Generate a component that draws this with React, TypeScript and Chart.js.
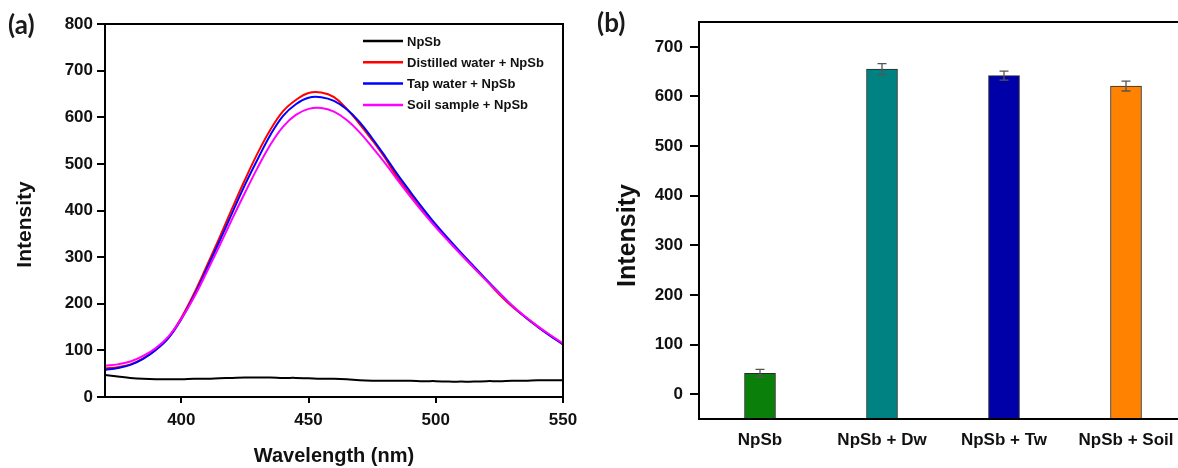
import React, { useEffect, useRef } from "react";
import { Chart, registerables } from "chart.js";

Chart.register(...registerables);

// Emission spectra, sampled every 5 nm
const wavelengths = [
  370, 375, 380, 385, 390, 395, 400, 405, 410, 415, 420, 425, 430, 435, 440, 445, 450, 455, 460,
  465, 470, 475, 480, 485, 490, 495, 500, 505, 510, 515, 520, 525, 530, 535, 540, 545, 550,
];
const npsbSpectrum = [
  47, 44, 41, 39, 38, 38, 38, 39, 39, 40, 41, 42, 42, 42, 41, 41, 40, 39, 39,
  38, 36, 35, 35, 35, 35, 34, 34, 33, 33, 33, 34, 34, 35, 35, 36, 36, 36,
];
const distilledSpectrum = [
  61, 64, 70, 83, 102, 128, 170, 222, 281, 342, 405, 466, 523, 573, 613, 637, 652, 653, 643,
  618, 586, 551, 513, 470, 434, 398, 366, 336, 306, 277, 249, 220, 194, 172, 151, 132, 113,
];
const tapSpectrum = [
  58, 62, 69, 82, 101, 127, 167, 217, 275, 334, 395, 455, 510, 562, 603, 628, 642, 643, 635,
  617, 590, 555, 517, 477, 440, 404, 370, 339, 309, 280, 251, 223, 196, 172, 151, 131, 113,
];
const soilSpectrum = [
  67, 70, 76, 88, 105, 130, 168, 214, 268, 324, 382, 438, 492, 541, 580, 605, 618, 620, 612,
  594, 568, 536, 502, 465, 430, 396, 364, 334, 305, 277, 249, 222, 196, 173, 152, 133, 115,
];
const spectrumLabels = ["NpSb", "Distilled water + NpSb", "Tap water + NpSb", "Soil sample + NpSb"];
const spectrumColors = ["#000000", "#ff0000", "#0000ff", "#ff00ff"];
const wavelengthTicks = [400, 450, 500, 550];
const spectrumIntensityTicks = [0, 100, 200, 300, 400, 500, 600, 700, 800];

// Peak intensity per sample
const barCategories = ["NpSb", "NpSb + Dw", "NpSb + Tw", "NpSb + Soil"];
const barValues = [42, 655, 642, 621];
const barErrors = [8, 11, 9, 10];
const barColors = ["#0a800a", "#008282", "#0000a8", "#ff8200"];
const barIntensityTicks = [0, 100, 200, 300, 400, 500, 600, 700];

const FONT = '"Liberation Sans", Arial, Helvetica, sans-serif';
const INK = "#111111";

const framePlugin = {
  id: "frame",
  afterDraw(chart: any) {
    const { ctx, chartArea } = chart;
    ctx.save();
    ctx.strokeStyle = "#000";
    ctx.lineWidth = 2;
    ctx.strokeRect(chartArea.left, chartArea.top, chartArea.right - chartArea.left, chartArea.bottom - chartArea.top);
    ctx.restore();
  },
};

// Rotated y-axis title, placed a little below the middle of the plot area
function makeYTitle(text: string, size: number, xCenter: number, shift: number) {
  return {
    id: "yTitle",
    afterDraw(chart: any) {
      const { ctx, chartArea } = chart;
      const yc = (chartArea.top + chartArea.bottom) / 2 + shift;
      ctx.save();
      ctx.translate(xCenter, yc);
      ctx.rotate(-Math.PI / 2);
      ctx.font = `bold ${size}px ${FONT}`;
      ctx.fillStyle = INK;
      ctx.textAlign = "center";
      ctx.textBaseline = "middle";
      ctx.fillText(text, 0, 0);
      ctx.restore();
    },
  };
}

const spectrumLegend = {
  id: "spectrumLegend",
  afterDraw(chart: any) {
    const { ctx, chartArea } = chart;
    const x0 = chartArea.right - 200;
    const y0 = chartArea.top + 17;
    const row = 21.3;
    ctx.save();
    ctx.font = `bold 13px ${FONT}`;
    ctx.textBaseline = "middle";
    ctx.textAlign = "left";
    chart.data.datasets.forEach((ds: any, i: number) => {
      const y = y0 + i * row;
      ctx.strokeStyle = ds.borderColor;
      ctx.lineWidth = 2.5;
      ctx.beginPath();
      ctx.moveTo(x0, y);
      ctx.lineTo(x0 + 40, y);
      ctx.stroke();
      ctx.fillStyle = INK;
      ctx.fillText(ds.label, x0 + 44, y + 1);
    });
    ctx.restore();
  },
};

const errorBarPlugin = {
  id: "errorBars",
  afterDatasetsDraw(chart: any) {
    const { ctx } = chart;
    const yScale = chart.scales.y;
    const meta = chart.getDatasetMeta(0);
    const values = chart.data.datasets[0].data as number[];
    ctx.save();
    ctx.strokeStyle = "#555";
    ctx.lineWidth = 1.3;
    meta.data.forEach((bar: any, i: number) => {
      const hi = yScale.getPixelForValue(values[i] + barErrors[i]);
      const lo = yScale.getPixelForValue(values[i] - barErrors[i]);
      const x = bar.x;
      ctx.beginPath();
      ctx.moveTo(x, hi);
      ctx.lineTo(x, lo);
      ctx.moveTo(x - 4.5, hi);
      ctx.lineTo(x + 4.5, hi);
      ctx.moveTo(x - 4.5, lo);
      ctx.lineTo(x + 4.5, lo);
      ctx.stroke();
    });
    ctx.restore();
  },
};

function SpectraChart() {
  const ref = useRef<HTMLCanvasElement>(null);
  useEffect(() => {
    const series = [npsbSpectrum, distilledSpectrum, tapSpectrum, soilSpectrum];
    const chart = new Chart(ref.current as HTMLCanvasElement, {
      type: "line",
      data: {
        datasets: series.map((arr, i) => ({
          label: spectrumLabels[i],
          data: wavelengths.map((x, j) => ({ x, y: arr[j] })),
          borderColor: spectrumColors[i],
          backgroundColor: spectrumColors[i],
          borderWidth: 2,
          pointRadius: 0,
          tension: 0.4,
          order: series.length - i,
        })),
      },
      options: {
        animation: false,
        responsive: false,
        events: [],
        layout: { padding: { left: 0, top: 24, right: 27, bottom: 0 } },
        plugins: { legend: { display: false }, tooltip: { enabled: false } },
        scales: {
          x: {
            type: "linear",
            min: 370,
            max: 550,
            afterBuildTicks: (s: any) => {
              s.ticks = wavelengthTicks.map((value) => ({ value }));
            },
            afterFit: (s: any) => {
              s.height = 71;
            },
            grid: { drawOnChartArea: false, drawTicks: true, tickLength: 6, color: "#000", lineWidth: 2 },
            border: { display: true, color: "#000", width: 2 },
            ticks: { color: INK, font: { family: FONT, size: 17, weight: "bold" }, padding: 7, maxRotation: 0, autoSkip: false },
            title: {
              display: true,
              text: "Wavelength (nm)",
              color: INK,
              font: { family: FONT, size: 20, weight: "bold" },
              padding: { top: 0, bottom: 0 },
            },
          },
          y: {
            min: 0,
            max: 800,
            afterBuildTicks: (s: any) => {
              s.ticks = spectrumIntensityTicks.map((value) => ({ value }));
            },
            afterFit: (s: any) => {
              s.width = 105;
            },
            grid: { drawOnChartArea: false, drawTicks: true, tickLength: 8, color: "#000", lineWidth: 2 },
            border: { display: true, color: "#000", width: 2 },
            ticks: { color: INK, font: { family: FONT, size: 17, weight: "bold" }, padding: 4 },
          },
        },
      },
      plugins: [framePlugin, spectrumLegend, makeYTitle("Intensity", 21, 25, 14)],
    } as any);
    return () => chart.destroy();
  }, []);
  return <canvas ref={ref} width={590} height={468} style={{ display: "block" }} />;
}

function BarsChart() {
  const ref = useRef<HTMLCanvasElement>(null);
  useEffect(() => {
    const yMin = -50;
    const chart = new Chart(ref.current as HTMLCanvasElement, {
      type: "bar",
      data: {
        labels: barCategories,
        datasets: [
          {
            data: barValues,
            base: yMin,
            backgroundColor: barColors,
            borderColor: "#2a2a2a",
            borderWidth: 1,
            barThickness: 31,
          },
        ],
      },
      options: {
        animation: false,
        responsive: false,
        events: [],
        layout: { padding: { left: 0, top: 22, right: 3, bottom: 0 } },
        plugins: { legend: { display: false }, tooltip: { enabled: false } },
        scales: {
          x: {
            type: "category",
            offset: true,
            afterFit: (s: any) => {
              s.height = 49;
            },
            grid: { display: false, drawTicks: false },
            border: { display: true, color: "#000", width: 2 },
            ticks: { color: INK, font: { family: FONT, size: 17, weight: "bold" }, padding: 11, maxRotation: 0, autoSkip: false },
          },
          y: {
            min: yMin,
            max: 750,
            afterBuildTicks: (s: any) => {
              s.ticks = barIntensityTicks.map((value) => ({ value }));
            },
            afterFit: (s: any) => {
              s.width = 109;
            },
            grid: { drawOnChartArea: false, drawTicks: true, tickLength: 9, color: "#000", lineWidth: 2 },
            border: { display: true, color: "#000", width: 2 },
            ticks: { color: INK, font: { family: FONT, size: 17, weight: "bold" }, padding: 7 },
          },
        },
      },
      plugins: [errorBarPlugin, framePlugin, makeYTitle("Intensity", 25, 38, 15)],
    } as any);
    return () => chart.destroy();
  }, []);
  return <canvas ref={ref} width={600} height={468} style={{ display: "block" }} />;
}

const panelLabel: React.CSSProperties = {
  position: "absolute",
  fontFamily: 'Lato, "Open Sans", sans-serif',
  fontWeight: 700,
  fontSize: 26,
  lineHeight: "28px",
  color: "#1a1a1a",
};

export default function App() {
  return (
    <div
      style={{
        position: "fixed",
        left: 0,
        top: 0,
        width: 1178,
        height: 468,
        overflow: "hidden",
        background: "#ffffff",
      }}
    >
      <div style={{ position: "absolute", left: 0, top: 0, width: 590, height: 468 }}>
        <SpectraChart />
      </div>
      <div style={{ position: "absolute", left: 590, top: 0, width: 600, height: 468 }}>
        <BarsChart />
      </div>
      <div style={{ ...panelLabel, left: 8, top: 10 }}>(a)</div>
      <div style={{ ...panelLabel, left: 597, top: 8 }}>(b)</div>
    </div>
  );
}
